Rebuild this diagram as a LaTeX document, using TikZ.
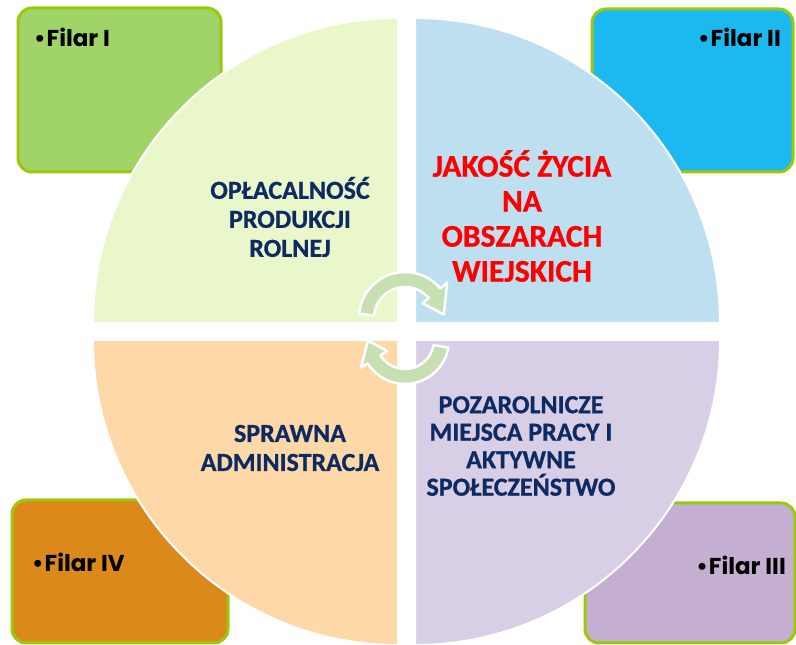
\documentclass[tikz,border=0pt]{standalone}
\usepackage{fontspec}
\setmainfont{Carlito}
\newfontfamily\filarfont{Poppins}

\definecolor{rim}{HTML}{9CC80C}
\definecolor{filarI}{HTML}{A0D468}
\definecolor{filarII}{HTML}{1CB8F0}
\definecolor{filarIII}{HTML}{C4AFD3}
\definecolor{filarIV}{HTML}{DC891C}
\definecolor{quartTL}{HTML}{EAF7CB}
\definecolor{quartTR}{HTML}{BEDFF0}
\definecolor{quartBL}{HTML}{FED8A6}
\definecolor{quartBR}{HTML}{D8CEE6}
\definecolor{navytext}{HTML}{0E2A63}
\definecolor{cyclegreen}{HTML}{C6E0B2}

\begin{document}
\begin{tikzpicture}[x=1pt,y=1pt]
\tikzstyle{every node}+=[inner sep=0pt]
\tikzstyle{filar}=[draw=rim, line width=3pt, rounded corners=14pt]
\tikzstyle{pillar}=[font=\filarfont\bfseries\fontsize{23}{27}\selectfont]
\tikzstyle{quarter}=[draw=white, line width=2pt]
\tikzstyle{navy}=[text=navytext, align=center, font=\bfseries\addfontfeature{FakeBold=0.8}\fontsize{26}{29}\selectfont]
\tikzstyle{redtxt}=[text=red, align=center, font=\bfseries\addfontfeature{FakeBold=0.8}\fontsize{31.5}{35}\selectfont]
\tikzstyle{cycle}=[fill=cyclegreen, draw=white, line width=2.5pt, line join=round]
\useasboundingbox (0,0) rectangle (796,645);

\node[filar, fill=filarI, minimum width=203pt, minimum height=164pt] (boxI) at (119.5,555) {};
\node[filar, fill=filarII, minimum width=201pt, minimum height=163pt] (boxII) at (692.5,554.5) {};
\node[filar, fill=filarIV, minimum width=216pt, minimum height=143pt] (boxIV) at (120,73.5) {};
\node[filar, fill=filarIII, minimum width=210pt, minimum height=140pt] (boxIII) at (690,72) {};

\node[pillar, anchor=west] (filarI) at (34,608) {•\hspace{1pt}Filar I};
\node[pillar, anchor=east] (filarII) at (781,608) {•\hspace{1pt}Filar II};
\node[pillar, anchor=west] (filarIV) at (32,83) {•\hspace{1pt}Filar IV};
\node[pillar, anchor=east] (filarIII) at (786,80) {•\hspace{1pt}Filar III};

\draw[quarter, fill=quartTL] (398,322) -- (93,322) arc (180:90:305) -- cycle;
\draw[quarter, fill=quartTR] (415,322) -- (415,627) arc (90:0:305) -- cycle;
\draw[quarter, fill=quartBL] (398,305) -- (398,0) arc (270:180:305) -- cycle;
\draw[quarter, fill=quartBR] (415,305) -- (720,305) arc (0:-90:305) -- cycle;

\node[navy] (rolnej) at (290,428) {OPŁACALNOŚĆ\\PRODUKCJI\\ROLNEJ};
\node[redtxt] (jakosc) at (522,429) {JAKOŚĆ ŻYCIA\\NA\\OBSZARACH\\WIEJSKICH};
\node[navy] (admin) at (290,197) {SPRAWNA\\ADMINISTRACJA};
\node[navy, font=\bfseries\addfontfeature{FakeBold=0.8}\fontsize{26}{27.5}\selectfont] (praca) at (521,199) {POZAROLNICZE\\MIEJSCA PRACY I\\AKTYWNE\\SPOŁECZEŃSTWO};

\coordinate (topc) at (405,327);
\coordinate (botc) at (405,305);
\draw[cycle] ([shift={(175:46)}]topc) arc (175:40:46) -- ([shift={(40:55)}]topc)
  -- ([shift={(5:39)}]topc) -- ([shift={(40:23)}]topc) -- ([shift={(40:31)}]topc)
  arc (40:175:31) -- cycle;
\draw[cycle] ([shift={(-10:44)}]botc) arc (-10:-148:44) -- ([shift={(-148:52)}]botc)
  -- ([shift={(-179:37)}]botc) -- ([shift={(-148:21)}]botc) -- ([shift={(-148:29)}]botc)
  arc (-148:-10:29) -- cycle;
\end{tikzpicture}
\end{document}
